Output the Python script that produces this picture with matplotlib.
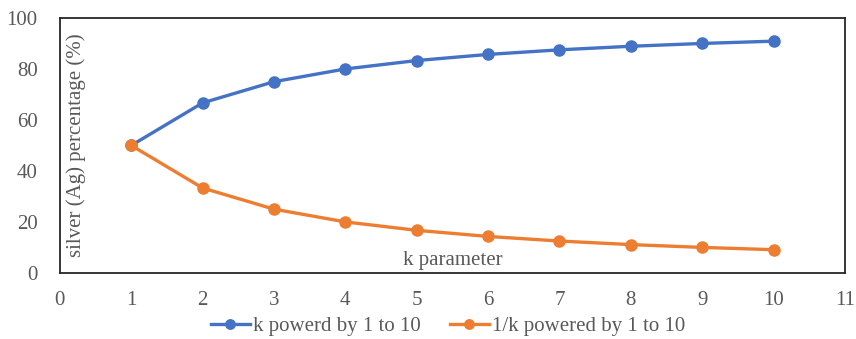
import matplotlib
matplotlib.use("Agg")
import matplotlib.pyplot as plt

k = [1, 2, 3, 4, 5, 6, 7, 8, 9, 10]
k_powered = [50.0, 66.7, 75.0, 80.0, 83.3, 85.7, 87.5, 88.9, 90.0, 90.9]
inv_k_powered = [50.0, 33.3, 25.0, 20.0, 16.7, 14.3, 12.5, 11.1, 10.0, 9.1]
xticks = [0, 1, 2, 3, 4, 5, 6, 7, 8, 9, 10, 11]
yticks = [0, 20, 40, 60, 80, 100]

plt.rcParams['font.family'] = ['Liberation Serif', 'DejaVu Serif']
gray = '#595959'
fs = 15

fig = plt.figure(figsize=(8.56, 3.39), dpi=100)
ax = fig.add_axes([0.070, 0.195, 0.917, 0.752])

l1, = ax.plot(k, k_powered, color='#4472C4', lw=2.4, marker='o', ms=8,
              label='k powerd by 1 to 10')
l2, = ax.plot(k, inv_k_powered, color='#ED7D31', lw=2.4, marker='o', ms=8,
              label='1/k powered by 1 to 10')

ax.set_xlim(0, 11)
ax.set_ylim(0, 100)
ax.set_xticks(xticks)
ax.set_yticks(yticks)
ax.tick_params(length=0, labelsize=fs, colors=gray)
ax.tick_params(axis='y', pad=16)
ax.tick_params(axis='x', pad=13)
for s in ax.spines.values():
    s.set_color('#262626')
    s.set_linewidth(1.3)

ax.text(0.0205, 0.5, 'silver (Ag) percentage (%)', transform=ax.transAxes,
        rotation=90, ha='center', va='center', fontsize=fs, color=gray)
ax.text(0.5, 0.05, 'k parameter', transform=ax.transAxes,
        ha='center', va='center', fontsize=fs, color=gray)

leg = fig.legend(handles=[l1, l2], loc='center', bbox_to_anchor=(0.523, 0.038),
                 ncol=2, frameon=False, fontsize=fs, handlelength=1.9,
                 columnspacing=1.4, handletextpad=0.12, markerscale=0.85)
for t in leg.get_texts():
    t.set_color(gray)

fig.savefig('out.png', dpi=100)
